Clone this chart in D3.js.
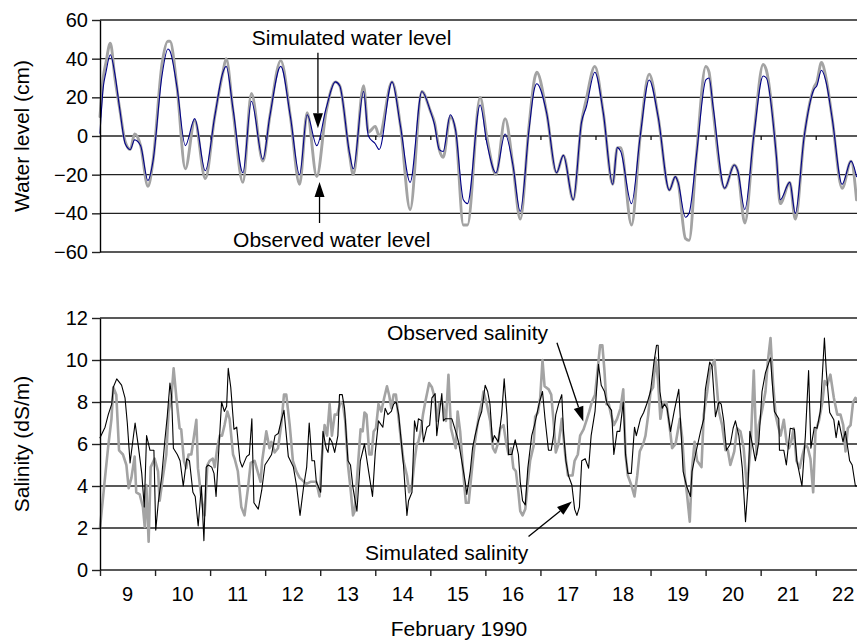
<!DOCTYPE html>
<html><head><meta charset="utf-8">
<script src="https://cdn.jsdelivr.net/npm/d3@7"></script>
<style>
body{margin:0;background:#fff}
svg{display:block}
text{font-family:"Liberation Sans",Arial,Helvetica,sans-serif;fill:#000}
</style>
</head><body>
<svg id="c" width="857" height="641"></svg>
<script>
// ---------- DATA (hours from 9 Feb 1990 00:00) ----------
const dayLabels = [9,10,11,12,13,14,15,16,17,18,19,20,21,22];
const levelTicks = [-60,-40,-20,0,20,40,60];
const salinityTicks = [0,2,4,6,8,10,12];

const levelHours = [0,1.4,2.6,4.5,6.5,8.6,11,13.2,15.1,17.7,20.9,23.1,27,29.6,30.5,33.6,37.2,41.3,45.9,50,
53.6,55,58,62.3,66,71,74,78.8,83,87,90.3,94.5,98.5,102.6,104.5,108.8,110.4,114.9,117,120,
121.7,127.3,131,135.2,140.3,144,145.8,147.9,149.6,152.7,155,158.4,160.2,165.7,168.7,172.6,176.6,180,183.2,187,
189.5,190.4,194.7,199,202,206.3,209.9,212,215.7,219.4,223.5,225.5,227,231.7,235.5,239.4,243.3,248.2,250.8,252,
255.2,256.8,260,264.1,265.5,267.3,272.3,276.5,278,281.1,285,289.1,290.5,294.9,296.5,300.7,303.1,307,311.2,312.5,
314.5,316.5,319.2,323.5,327.4,329.8];
const levelObserved = [10,30,38,48,30,14,-3,-7,1,-5,-26,-13,37,49,49,25,-17,8,-22,10,
33,40,13,-24,22,-13,10,39,10,-25,12,-21,12,28,26,-10,-20,26,2,5,
0,28,5,-38,23,13,7,-7,-11,10,3,-46,-46,20,-1,-20,9,-15,-43,5,
30,33,12,-19,-10,-33,7,19,36,12,-25,-6,-6,-46,0,32,10,-28,-21,-24,
-53,-54,-10,36,33,13,-27,-15,-18,-45,0,37,34,-11,-35,-24,-43,0,25,28,
38,30,9,-27,-13,-33];
const levelSimulated = [1.5,25,33,42,32,14,-4,-7,-2,-5,-23,-13,31,45,44,25,-5,9,-18,10,
33,36,14,-19,18,-12,10,36,10,-20,11,-5,14,28,26,-9,-17,23,0,-4,
-7,28,5,-24,23,13,6,-7,-8,11,3,-33,-35,16,-4,-19,1,-15,-39,3,
25,27,12,-19,-10,-33,7,15,33,12,-25,-6,-8,-35,0,29,10,-28,-21,-24,
-42,-40,-10,29,30,15,-27,-15,-18,-38,0,31,30,-11,-33,-24,-40,0,24,26,
34,28,9,-25,-13,-21];

const salinityObserved = [[0,2.0],[2,4.2],[3.5,5.8],[5,7.2],[5.8,8.7],[7.1,8.35],[8.3,5.7],[10,5.5],[11.5,5.0],[12.5,3.9],
[13.7,4.4],[15.1,5.4],[15.8,3.7],[17.3,3.6],[18.7,3.0],[19.5,2.05],[20.2,4.05],[21.2,1.35],[22.1,4.9],[23.8,5.3],
[25.3,4.7],[26,3.3],[27.5,4.5],[28.9,5.5],[29.9,7.55],[31.1,8.2],[32.1,9.6],[33.3,8.2],[34.7,6.75],[35.4,6.7],
[36.6,5.2],[37.6,4.85],[38.6,5.5],[39.8,5.5],[42,7.15],[42.7,4.85],[43.9,3.7],[44.4,3.3],[45.6,2.6],[46.8,5.0],
[47.8,5.2],[49.2,5.3],[50,4.9],[51.1,5.8],[52.2,6.4],[53.2,6.4],[54.3,6.9],[55.5,7.55],[56.5,7.2],[58,5.5],
[58.7,5.3],[60.1,4.7],[61.6,3.0],[63,2.6],[64.5,3.9],[65.7,5.1],[67.4,5.2],[70,4.2],[70.7,5.2],[72.5,6.6],
[73.9,5.8],[74.7,6.1],[76.1,5.6],[77.6,5.8],[79,6.9],[80.2,8.35],[81.2,8.35],[82.7,6.9],[84.1,5.2],[85.6,4.7],
[87,4.4],[89.9,4.1],[91.8,4.2],[94.3,4.2],[95.7,3.5],[96.7,5.3],[97.9,6.9],[99,6.4],[100.1,7.9],[101.1,6.4],
[102.3,7.4],[103.4,7.4],[104.9,8.0],[105.9,7.9],[106.9,7.1],[108.1,5.0],[109.2,3.9],[110.3,2.6],[111,2.8],[113.6,6.7],
[114.5,6.6],[115.3,7.5],[116.2,7.4],[117.4,5.5],[118.4,5.5],[119.3,6.6],[120.3,6.75],[121.4,7.9],[122.6,7.55],[123.9,8.2],
[125.1,8.75],[126.1,8.3],[127,7.7],[128,8.35],[129,8.35],[130.2,7.2],[131.3,6.1],[132.3,5.2],[133.8,4.5],[134.8,3.7],
[136,4.0],[137.1,5.2],[138.1,6.0],[138.8,6.1],[139.8,6.6],[140.8,7.4],[141.8,8.0],[143.5,8.9],[144.7,8.7],[145.9,8.2],
[146.9,7.1],[147.9,7.9],[149.3,8.0],[150.8,7.1],[151.9,9.3],[153,6.75],[155.1,5.8],[155.9,7.55],[157,6.6],[158.5,4.45],
[159.5,3.2],[160.7,3.2],[162.2,4.85],[163.3,6.0],[164.3,6.75],[165.3,7.4],[166.5,8.0],[167.2,8.5],[168.6,7.9],[170.1,7.1],
[171.3,5.8],[172.3,5.6],[173.4,6.0],[174.5,6.75],[175.9,6.9],[177,6.1],[178.1,5.5],[179.2,5.8],[180.2,4.85],[181.3,4.7],
[182.4,3.7],[183.2,2.8],[184.2,2.6],[185.4,2.9],[186.5,4.2],[187.5,5.2],[189,5.9],[189.7,7.3],[190.9,7.5],[191.9,8.2],
[192.9,10.0],[193.8,8.75],[195.6,8.6],[196.7,8.35],[197.7,7.1],[198.7,5.6],[199.9,6.0],[201.3,7.2],[202.8,5.5],[204,4.5],
[206,4.5],[206.9,5.2],[208.3,5.5],[209.3,6.4],[210.8,6.7],[212.3,7.2],[213.3,7.55],[214.4,8.0],[215.8,8.35],[217,9.6],
[218,10.7],[219,10.7],[219.9,9.5],[220.8,7.9],[221.8,7.9],[222.8,7.4],[224,6.9],[225.4,7.2],[226.9,7.7],[228.1,8.6],
[229.1,5.5],[230.1,4.5],[231.6,4.05],[233,3.5],[234.2,4.5],[235.3,5.65],[236.8,6.0],[237.8,6.4],[239,7.4],[240,8.5],
[241.1,8.7],[242.2,10.1],[243.2,9.1],[244.3,7.2],[245.5,8.0],[246.9,8.0],[248.4,6.75],[249.4,5.8],[250.9,6.0],[252.8,7.2],
[253.8,6.3],[254.9,4.5],[255.9,3.6],[257.1,2.3],[258.1,4.85],[259.2,6.1],[260.3,5.2],[262.2,4.9],[263.2,7.4],[264.7,8.5],
[265.8,9.5],[267.9,10.0],[268.7,9.0],[269.8,7.55],[271.2,6.9],[272.7,5.7],[273.7,5.7],[274.8,5.0],[276.5,5.65],[277.7,6.75],
[279.2,6.6],[280.6,5.8],[282,3.9],[283.6,5.8],[285,9.5],[286.2,5.5],[287.2,6.9],[288.6,7.6],[290.1,8.5],[291.1,9.9],
[292.3,11.05],[293.4,8.9],[294.5,7.4],[295.5,6.9],[296.7,6.4],[298.1,7.15],[299.3,6.1],[300.3,5.8],[301.3,6.1],[302.4,6.75],
[303.6,5.2],[305,4.85],[306.3,5.5],[307.5,6.0],[308.6,5.8],[309.7,5.3],[310.9,3.7],[311.9,6.6],[313.4,7.1],[314.9,8.0],
[315.9,9.0],[317,8.8],[318.4,9.3],[319.9,8.2],[321.4,7.4],[322.8,7.4],[324,6.9],[325,5.65],[326,6.75],[327.2,6.9],
[328.3,8.0],[329.3,8.2],[330,8.1]];

const salinitySimulated = [[0,6.3],[2.2,6.8],[3.6,7.4],[5.1,7.9],[5.8,8.7],[7.3,9.1],[9.4,8.8],[10.9,8.2],[11.9,7.0],[13.1,5.1],
[15.3,7.0],[16.7,5.9],[18.2,4.6],[19.3,3.0],[20.3,6.4],[21.8,5.7],[23.5,5.7],[24.3,1.9],[25.4,3.2],[26.9,4.45],
[28.3,6.2],[29.3,7.3],[30.5,8.9],[31.2,8.3],[32,5.8],[33.7,5.5],[34.9,5.2],[36.3,4.0],[37.8,5.3],[39,5.2],
[40.5,3.7],[41.5,3.5],[42.8,2.1],[44.2,4.0],[45.3,1.4],[46.3,4.9],[47.2,5.0],[48.7,4.9],[49.7,4.6],[50.6,3.5],
[53,8.0],[54.2,7.55],[55.2,7.8],[55.9,9.6],[57,8.7],[58.4,6.7],[59.6,6.8],[61,5.2],[62,4.9],[63.9,5.4],
[65.1,5.5],[66.2,7.2],[67.1,3.2],[69,2.9],[70.5,3.8],[71.9,5.0],[73.4,5.25],[74.8,5.5],[76.3,6.4],[77.7,6.5],
[79.2,7.2],[80.2,7.6],[82.1,5.4],[84.3,4.9],[85.7,4.0],[87.2,2.6],[88.8,4.0],[90.1,4.9],[91.2,7.0],[92.4,5.2],
[93.5,5.2],[94.3,4.2],[96.2,3.7],[97.2,6.6],[98.6,5.8],[99.4,5.6],[100.1,6.3],[101.1,6.1],[102.3,5.6],[103.7,6.4],
[104.4,8.35],[105.6,8.35],[106.6,7.7],[108.1,5.2],[109.2,5.0],[110.3,3.9],[112,2.8],[113.5,5.2],[115.3,6.0],[117.1,4.7],
[118.8,3.5],[120,5.6],[121.4,7.1],[123.3,6.8],[124.3,7.7],[125.5,7.4],[127,7.55],[128,7.9],[129.1,8.0],[130.2,7.4],
[132.3,5.0],[133.8,2.6],[134.5,3.3],[136,3.7],[137.1,7.1],[138.1,6.6],[138.8,7.2],[140.3,7.1],[141,6.1],[142.5,6.8],
[143.7,6.9],[144.7,8.2],[146.1,8.4],[146.8,6.4],[149,8.4],[149.7,7.1],[150.5,7.2],[153.4,7.2],[155.6,6.4],[156.3,6.1],
[157.7,5.2],[159.2,4.2],[159.9,3.6],[161.4,4.7],[162.4,5.8],[163.5,6.4],[165,7.1],[166.4,7.55],[167.9,8.8],[169,8.5],
[170,7.9],[171.1,6.1],[171.9,6.4],[173.6,6.1],[175.1,7.4],[176.2,9.1],[176.6,8.5],[177.4,7.4],[178.1,5.5],[179.5,5.5],
[181,6.2],[182.4,5.5],[183.2,4.2],[184.2,3.3],[185.4,3.1],[186.5,4.85],[188.2,6.4],[189.4,6.9],[190.4,7.4],[191.6,8.0],
[192.9,8.5],[194,7.2],[195.5,5.7],[196.7,5.7],[197.7,6.4],[198.7,7.4],[199.9,7.9],[201.3,8.35],[202.1,6.5],[203.1,5.2],
[204.2,4.5],[205.7,4.05],[206.9,2.9],[207.9,2.6],[209,3.0],[210,5.2],[211.5,5.3],[213,4.85],[214.1,6.4],[215.8,7.55],
[217.3,9.8],[218.5,8.8],[219.9,8.5],[221.1,7.9],[223,7.6],[224,5.5],[225.4,6.6],[226.6,6.6],[228.1,8.0],[229.1,5.5],
[230.1,4.6],[231.6,4.6],[233,6.8],[233.8,6.4],[235.6,7.2],[237,7.5],[238.5,7.95],[240,8.5],[241.5,9.9],[242.6,10.7],
[243.3,10.7],[244.1,8.5],[245.1,7.7],[246.1,7.9],[247.2,7.7],[248.7,6.6],[250.3,7.55],[252.3,8.6],[253,7.2],[254.2,4.7],
[255.7,4.0],[257.4,3.5],[258.1,4.7],[259.6,5.5],[261.8,6.6],[263.2,7.2],[263.9,8.6],[265.8,9.9],[266.8,9.7],[268.3,7.3],
[269.8,8.0],[270.8,7.9],[271.9,7.1],[273.1,5.7],[274.8,6.0],[276,6.75],[277,7.1],[278.5,6.4],[280,4.85],[281.4,2.3],
[282.5,4.0],[283.3,6.6],[284.7,5.8],[285.7,5.2],[287.2,6.1],[288.6,8.5],[290.1,9.4],[292.3,10.1],[293,9.0],[294,7.55],
[295.9,7.2],[296.2,5.7],[298.1,5.7],[299.2,5.0],[300.9,6.75],[302.7,6.7],[303.8,5.2],[306,4.0],[307.5,6.4],[308.9,9.5],
[309.9,5.8],[311.4,6.8],[312.6,6.75],[314,7.55],[315.8,11.05],[316.6,9.5],[318.1,7.5],[319.9,7.15],[320.9,6.3],[322,7.1],
[323.9,6.1],[324.9,6.6],[326.8,5.2],[327.9,5.0],[329.3,4.0],[330,4.0]];

// ---------- CHART ----------
const svg = d3.select('#c');
const x = d3.scaleLinear().domain([0,330]).range([100,857]);
const yL = d3.scaleLinear().domain([-60,60]).range([252,20]);
const yS = d3.scaleLinear().domain([0,12]).range([570,318]);
const tickHours = dayLabels.map((d,i)=>i*24);
const labelHours = dayLabels.map((d,i)=>i*24+12);
const fmt = d => d<0 ? '\u2212'+Math.abs(d) : String(d);
const gridColor = '#222';

function panelGrid(y, vals){
  svg.append('g').selectAll('line').data(vals).join('line')
    .attr('x1',x(0)).attr('x2',x(330))
    .attr('y1',d=>y(d)).attr('y2',d=>y(d))
    .attr('stroke',gridColor).attr('stroke-width',1.4);
}
function yAxis(y, vals){
  const g = svg.append('g').attr('transform',`translate(${x(0)},0)`)
    .call(d3.axisLeft(y).tickValues(vals).tickSize(8).tickPadding(4).tickSizeOuter(0).tickFormat(fmt));
  g.select('.domain').attr('stroke','#000').attr('stroke-width',1.4);
  g.selectAll('.tick line').attr('stroke',gridColor).attr('stroke-width',1.4);
  g.selectAll('.tick text').attr('font-size',20).attr('font-family','"Liberation Sans",Arial,sans-serif').attr('fill','#000');
}
function drawLine(data, y, color, width, curve){
  svg.append('path').datum(data)
    .attr('d', d3.line().curve(curve||d3.curveLinear).x(d=>x(d[0])).y(d=>y(d[1])))
    .attr('fill','none').attr('stroke',color).attr('stroke-width',width)
    .attr('stroke-linejoin','round').attr('stroke-linecap','round');
}
function arrow(x1,y1,x2,y2){
  const dx=x2-x1, dy=y2-y1, L=Math.hypot(dx,dy), ux=dx/L, uy=dy/L;
  const len=15, hw=5;
  const bx=x2-ux*len, by=y2-uy*len;
  svg.append('line').attr('x1',x1).attr('y1',y1).attr('x2',bx).attr('y2',by)
    .attr('stroke','#000').attr('stroke-width',1.3);
  svg.append('path')
    .attr('d',`M${x2},${y2}L${bx-uy*hw},${by+ux*hw}L${bx+uy*hw},${by-ux*hw}Z`)
    .attr('fill','#000');
}
function label(txt, h, v, y, size, anchor){
  svg.append('text').attr('x',x(h)).attr('y',y(v)).attr('font-size',size)
    .attr('text-anchor',anchor||'start').text(txt);
}

// Top panel: water level
panelGrid(yL, levelTicks);
svg.append('g').attr('transform',`translate(0,${yL(0)})`)
  .call(d3.axisBottom(x).tickValues(tickHours).tickSize(4).tickFormat(''))
  .call(g=>{g.select('.domain').remove(); g.selectAll('.tick line').attr('stroke','#000').attr('stroke-width',1.2);});
drawLine(levelHours.map((h,i)=>[h,levelObserved[i]]), yL, '#a3a3a3', 2.9, d3.curveMonotoneX);
drawLine(levelHours.map((h,i)=>[h,levelSimulated[i]]), yL, '#000088', 1.1, d3.curveMonotoneX);
yAxis(yL, levelTicks);

// Bottom panel: salinity
panelGrid(yS, salinityTicks);
drawLine(salinityObserved, yS, '#a3a3a3', 2.6);
drawLine(salinitySimulated, yS, '#000', 1.1);
yAxis(yS, salinityTicks);
const xa = svg.append('g').attr('transform',`translate(0,${yS(0)})`)
  .call(d3.axisBottom(x).tickValues(tickHours).tickSize(6).tickFormat(''));
xa.select('.domain').remove();
xa.selectAll('.tick line').attr('stroke',gridColor).attr('stroke-width',1.4);
svg.append('g').selectAll('text').data(dayLabels).join('text')
  .attr('x',(d,i)=>x(labelHours[i])).attr('y',601)
  .attr('text-anchor','middle').attr('font-size',20).text(d=>d);

// Axis titles
svg.append('text').attr('transform',`translate(29,${(yL(60)+yL(-60))/2}) rotate(-90)`)
  .attr('text-anchor','middle').attr('font-size',21).text('Water level (cm)');
svg.append('text').attr('transform',`translate(29,${(yS(12)+yS(0))/2}) rotate(-90)`)
  .attr('text-anchor','middle').attr('font-size',21).text('Salinity (dS/m)');
svg.append('text').attr('x',459).attr('y',636).attr('text-anchor','middle')
  .attr('font-size',21).text('February 1990');

// Annotations
label('Simulated water level', 66.2, 47, yL, 21);
arrow(x(95), yL(43), x(95), yL(4));
label('Observed water level', 58, -57.2, yL, 21);
arrow(x(95.7), yL(-45), x(95.7), yL(-23.8));
label('Observed salinity', 125.1, 10.97, yS, 21);
arrow(x(199.2), yS(10.82), x(210.7), yS(7.07));
label('Simulated salinity', 115.5, 0.48, yS, 21);
arrow(x(186.8), yS(1.59), x(205.7), yS(3.26));
</script>
</body></html>
